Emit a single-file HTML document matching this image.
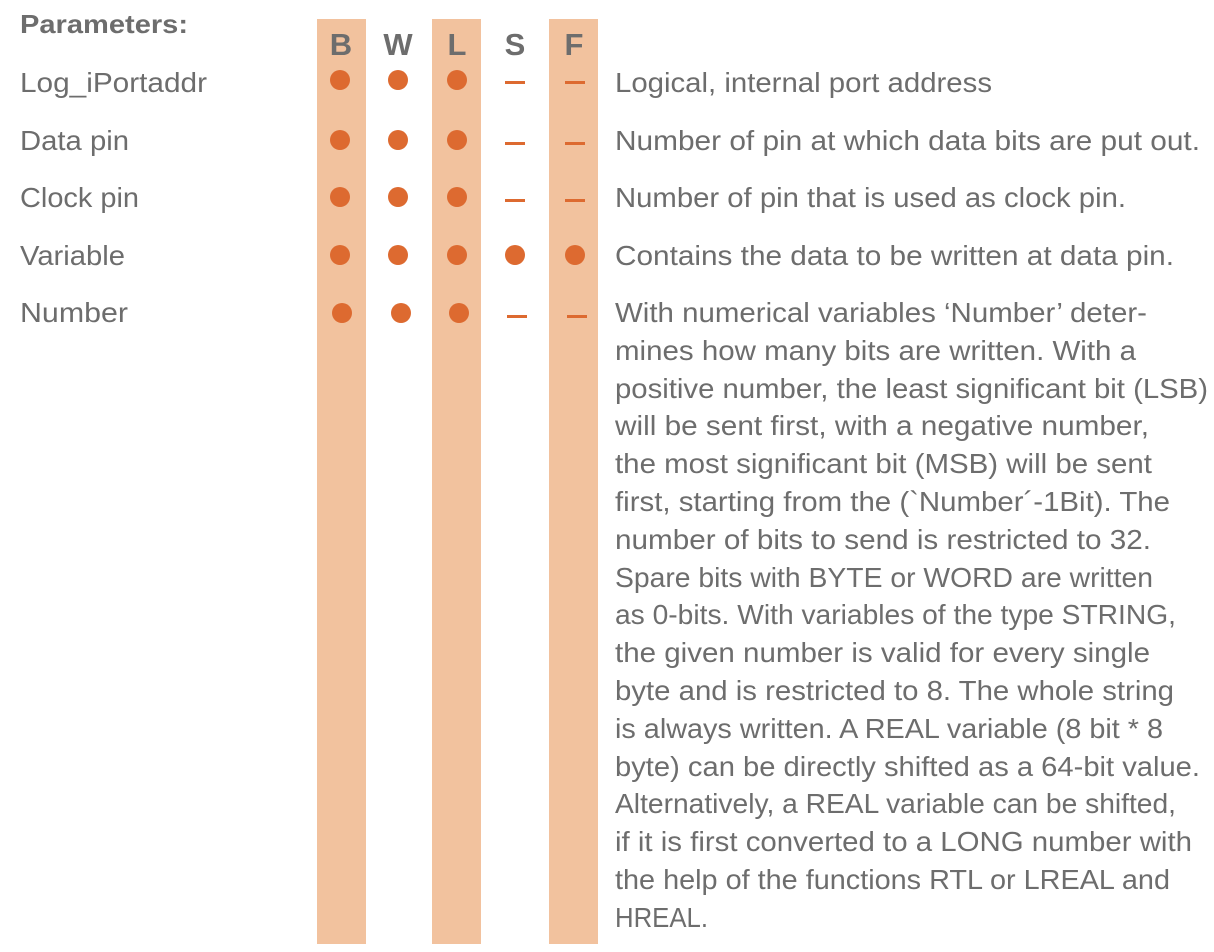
<!DOCTYPE html>
<html><head><meta charset="utf-8"><style>
html,body{margin:0;padding:0;background:#fff;}
svg{display:block;}
text{font-family:"Liberation Sans",sans-serif;fill:#6d6d6d;font-size:28px;}
</style></head><body>
<svg width="1214" height="952" viewBox="0 0 1214 952" xmlns="http://www.w3.org/2000/svg">
<rect x="317" y="19" width="49" height="925" fill="#f2c29e"/>
<rect x="432" y="19" width="49" height="925" fill="#f2c29e"/>
<rect x="549" y="19" width="49" height="925" fill="#f2c29e"/>
<text x="20" y="33" textLength="168" lengthAdjust="spacingAndGlyphs" style="font-size:26px;font-weight:bold">Parameters:</text>
<text x="341" y="55" text-anchor="middle" style="font-size:31px;font-weight:bold">B</text>
<text x="398" y="55" text-anchor="middle" style="font-size:31px;font-weight:bold">W</text>
<text x="457" y="55" text-anchor="middle" style="font-size:31px;font-weight:bold">L</text>
<text x="515" y="55" text-anchor="middle" style="font-size:31px;font-weight:bold">S</text>
<text x="574" y="55" text-anchor="middle" style="font-size:31px;font-weight:bold">F</text>
<g fill="#dd6a30">
<circle cx="340" cy="80" r="10"/><circle cx="398" cy="80" r="10"/><circle cx="457" cy="80" r="10"/>
<rect x="505" y="81" width="20" height="3"/><rect x="565" y="81" width="20" height="3"/>
<circle cx="340" cy="140" r="10"/><circle cx="398" cy="140" r="10"/><circle cx="457" cy="140" r="10"/>
<rect x="505" y="142" width="20" height="3"/><rect x="565" y="142" width="20" height="3"/>
<circle cx="340" cy="197" r="10"/><circle cx="398" cy="197" r="10"/><circle cx="457" cy="197" r="10"/>
<rect x="505" y="199" width="20" height="3"/><rect x="565" y="199" width="20" height="3"/>
<circle cx="340" cy="255" r="10"/><circle cx="398" cy="255" r="10"/><circle cx="457" cy="255" r="10"/><circle cx="515" cy="255" r="10"/><circle cx="575" cy="255" r="10"/>
<circle cx="342" cy="313" r="10"/><circle cx="401" cy="313" r="10"/><circle cx="459" cy="313" r="10"/>
<rect x="507" y="315" width="20" height="3"/><rect x="567" y="315" width="20" height="3"/>
</g>
<text x="20" y="92" textLength="187" lengthAdjust="spacingAndGlyphs">Log_iPortaddr</text>
<text x="20" y="150" textLength="109" lengthAdjust="spacingAndGlyphs">Data pin</text>
<text x="20" y="207" textLength="119" lengthAdjust="spacingAndGlyphs">Clock pin</text>
<text x="20" y="265" textLength="105" lengthAdjust="spacingAndGlyphs">Variable</text>
<text x="20" y="322" textLength="108" lengthAdjust="spacingAndGlyphs">Number</text>
<text x="615" y="92" textLength="377" lengthAdjust="spacingAndGlyphs">Logical, internal port address</text>
<text x="615" y="150" textLength="585" lengthAdjust="spacingAndGlyphs">Number of pin at which data bits are put out.</text>
<text x="615" y="207" textLength="511" lengthAdjust="spacingAndGlyphs">Number of pin that is used as clock pin.</text>
<text x="615" y="265" textLength="559" lengthAdjust="spacingAndGlyphs">Contains the data to be written at data pin.</text>
<text x="615" y="322" textLength="532" lengthAdjust="spacingAndGlyphs">With numerical variables ‘Number’ deter-</text>
<text x="615" y="360" textLength="521" lengthAdjust="spacingAndGlyphs">mines how many bits are written. With a</text>
<text x="615" y="398" textLength="593" lengthAdjust="spacingAndGlyphs">positive number, the least significant bit (LSB)</text>
<text x="615" y="435" textLength="534" lengthAdjust="spacingAndGlyphs">will be sent first, with a negative number,</text>
<text x="615" y="473" textLength="537" lengthAdjust="spacingAndGlyphs">the most significant bit (MSB) will be sent</text>
<text x="615" y="511" textLength="555" lengthAdjust="spacingAndGlyphs">first, starting from the (`Number´-1Bit). The</text>
<text x="615" y="549" textLength="536" lengthAdjust="spacingAndGlyphs">number of bits to send is restricted to 32.</text>
<text x="615" y="587" textLength="538" lengthAdjust="spacingAndGlyphs">Spare bits with BYTE or WORD are written</text>
<text x="615" y="624" textLength="561" lengthAdjust="spacingAndGlyphs">as 0-bits. With variables of the type STRING,</text>
<text x="615" y="662" textLength="535" lengthAdjust="spacingAndGlyphs">the given number is valid for every single</text>
<text x="615" y="700" textLength="559" lengthAdjust="spacingAndGlyphs">byte and is restricted to 8. The whole string</text>
<text x="615" y="738" textLength="548" lengthAdjust="spacingAndGlyphs">is always written. A REAL variable (8 bit * 8</text>
<text x="615" y="776" textLength="585" lengthAdjust="spacingAndGlyphs">byte) can be directly shifted as a 64-bit value.</text>
<text x="615" y="813" textLength="561" lengthAdjust="spacingAndGlyphs">Alternatively, a REAL variable can be shifted,</text>
<text x="615" y="851" textLength="577" lengthAdjust="spacingAndGlyphs">if it is first converted to a LONG number with</text>
<text x="615" y="889" textLength="555" lengthAdjust="spacingAndGlyphs">the help of the functions RTL or LREAL and</text>
<text x="615" y="927" textLength="93" lengthAdjust="spacingAndGlyphs">HREAL.</text>
</svg>
</body></html>
